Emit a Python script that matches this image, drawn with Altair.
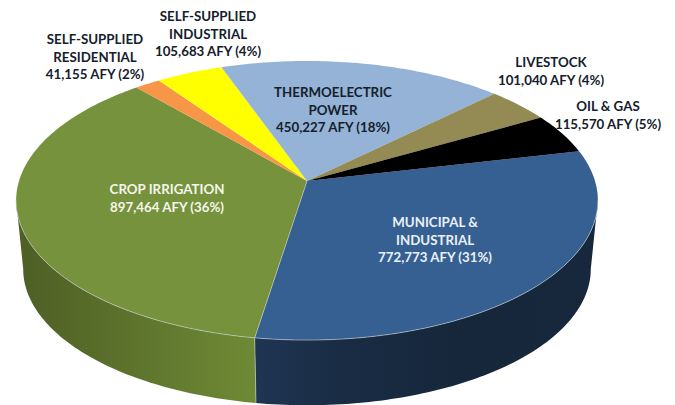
import math
import altair as alt

# ---- values ----
categories = ["MUNICIPAL &\nINDUSTRIAL", "CROP IRRIGATION", "SELF-SUPPLIED\nRESIDENTIAL",
              "SELF-SUPPLIED\nINDUSTRIAL", "THERMOELECTRIC\nPOWER", "LIVESTOCK", "OIL & GAS"]
values = [772773, 897464, 41155, 105683, 450227, 101040, 115570]
colors = ["#366092", "#76923C", "#F79646", "#FFFF00", "#95B3D7", "#948A54", "#000000"]
text_colors = ["#EAF0F6", "#F4F6EC", "#14202c", "#14202c", "#14202c", "#14202c", "#14202c"]
# centre of each label's first line
label_anchor = [(435, 223), (167, 190), (95, 40), (208, 17), (333, 93), (551, 63), (608, 107)]

# ---- projection of the tilted disc ----
START_DEG = 77.0
CX, K = 307.0, -0.14
TOP = dict(a=288.0, b=136.8, y0=181.0)
BASE = dict(a=281.0, b=133.5, y0=250.0)
WALL_RIGHT, WALL_LEFT = 98.0, 262.0
total = sum(values)


def pt(deg, a, b, y0):
    t = math.radians(deg)
    u, v = math.sin(t), -math.cos(t)
    w = 1 + K * v
    return [CX + a * u / w, y0 + b * v / w]


def arc(d0, d1, ell, step=1.0):
    n = max(2, int(abs(d1 - d0) / step) + 1)
    return [pt(d0 + (d1 - d0) * i / (n - 1), **ell) for i in range(n)]


def polygon(ring, name):
    return {"type": "Feature", "properties": {"name": name},
            "geometry": {"type": "Polygon", "coordinates": [ring + [ring[0]]]}}


def line(points, name):
    return {"type": "Feature", "properties": {"name": name},
            "geometry": {"type": "LineString", "coordinates": points}}


apex = [CX, TOP["y0"]]
slices, edges = [], []
angle = START_DEG
for cat, val in zip(categories, values):
    sweep = 360.0 * val / total
    slices.append(polygon([apex] + arc(angle, angle + sweep, TOP), cat))
    edges.append((angle, angle + sweep))
    angle += sweep

split = edges[0][1]  # municipal / crop boundary on the front of the disc


def wall(d0, d1):
    return [polygon(arc(d0, d1, TOP) + arc(d1, d0, BASE), "wall")]


def grad(stops):
    return alt.Gradient(gradient="linear", x1=0, x2=1, y1=0, y2=0,
                        stops=[alt.GradientStop(color=c, offset=o) for o, c in stops])


proj = dict(type="identity", scale=1, translate=[-8, -8])

wall_blue = alt.Chart(alt.Data(values=wall(WALL_RIGHT, split))).mark_geoshape(
    fill=grad([(0, "#1F3552"), (0.25, "#192C44"), (0.6, "#16273B"), (1, "#17283C")]),
    stroke=None).project(**proj)
wall_green = alt.Chart(alt.Data(values=wall(split, WALL_LEFT))).mark_geoshape(
    fill=grad([(0, "#4E5E25"), (0.45, "#5C722C"), (1, "#6F8A36")]),
    stroke=None).project(**proj)

top = alt.Chart(alt.Data(values=slices)).mark_geoshape(strokeWidth=0).encode(
    color=alt.Color("properties.name:N",
                    scale=alt.Scale(domain=categories, range=colors), legend=None)
).project(**proj)

front_edge = alt.Chart(alt.Data(values=[
    line(arc(WALL_RIGHT, WALL_LEFT, TOP), "edge"),
    line([pt(split, **TOP), pt(split, **BASE)], "edge"),
    line([apex, pt(split, **TOP)], "edge"),
])).mark_geoshape(filled=False, stroke="#C9D2D6", strokeWidth=0.7, opacity=0.85).project(**proj)

layers = [wall_blue, wall_green, top, front_edge]

for cat, val, tc, (lx, ly) in zip(categories, values, text_colors, label_anchor):
    label = f"{cat}\n{val:,} AFY ({round(100 * val / total)}%)"
    layers.append(
        alt.Chart(alt.Data(values=[{"label": label}])).mark_text(
            font="Lato", fontSize=13.3, fontWeight="bold", lineBreak="\n", lineHeight=17.5,
            align="center", baseline="middle", color=tc
        ).encode(x=alt.value(lx - 8), y=alt.value(ly - 8), text="label:N")
    )

chart = alt.layer(*layers).properties(
    width=659, height=397, padding=0, autosize=alt.AutoSizeParams(type="none"),
    background="white"
).configure_view(stroke=None)

chart.save("out.html", embed_options={"renderer": "svg", "actions": False})
